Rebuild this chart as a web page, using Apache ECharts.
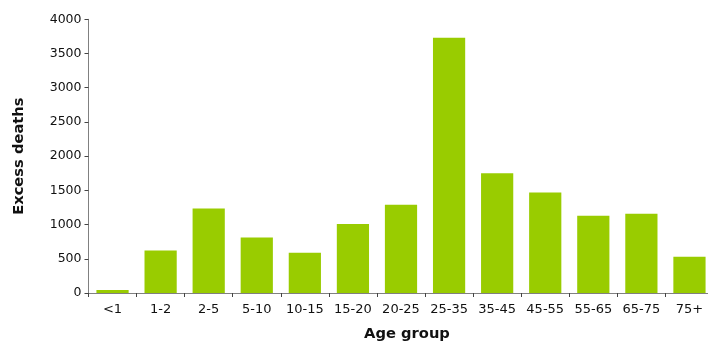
<!DOCTYPE html>
<html>
<head>
<meta charset="utf-8">
<script src="https://cdn.jsdelivr.net/npm/echarts@6/dist/echarts.min.js"></script>
<style>
html,body{margin:0;padding:0;background:#fff;overflow:hidden;}
#chart{width:716px;height:347px;}
</style>
</head>
<body>
<div id="chart"></div>
<script>
const categories = ['<1','1-2','2-5','5-10','10-15','15-20','20-25','25-35','35-45','45-55','55-65','65-75','75+'];
const excessDeaths = [45,620,1235,810,590,1010,1290,3730,1750,1470,1130,1160,530];
const yTicks = [0,500,1000,1500,2000,2500,3000,3500,4000];

const chart = echarts.init(document.getElementById('chart'));
const font = 'DejaVu Sans, Verdana, sans-serif';
chart.setOption({
  animation:false,
  grid:{left:88.5, top:19.3, width:625, bottom:53.7, containLabel:false},
  xAxis:{
    type:'category', data:categories,
    name:'Age group', nameLocation:'middle', nameGap:34,
    nameTextStyle:{fontFamily:font, fontSize:14.7, fontWeight:'bold', color:'#111', padding:[0,0,0,12]},
    axisLine:{lineStyle:{color:'#808080', width:1}},
    axisTick:{show:true, length:4, alignWithLabel:false, lineStyle:{color:'#444'}},
    axisLabel:{fontFamily:font, fontSize:13, color:'#111', margin:10, interval:0}
  },
  yAxis:{
    type:'value', min:yTicks[0], max:yTicks[yTicks.length-1], interval:500,
    name:'Excess deaths', nameLocation:'middle', nameGap:62,
    nameTextStyle:{fontFamily:font, fontSize:14.7, fontWeight:'bold', color:'#111'},
    axisLine:{show:true, lineStyle:{color:'#808080', width:1}},
    axisTick:{show:true, length:4, lineStyle:{color:'#444'}},
    splitLine:{show:false},
    axisLabel:{fontFamily:font, fontSize:12.5, color:'#111', margin:7, formatter:function(v){return String(v);}}
  },
  series:[{
    type:'bar', data:excessDeaths, barCategoryGap:'33%',
    itemStyle:{color:'#99cc00'}
  }]
});
</script>
</body>
</html>
